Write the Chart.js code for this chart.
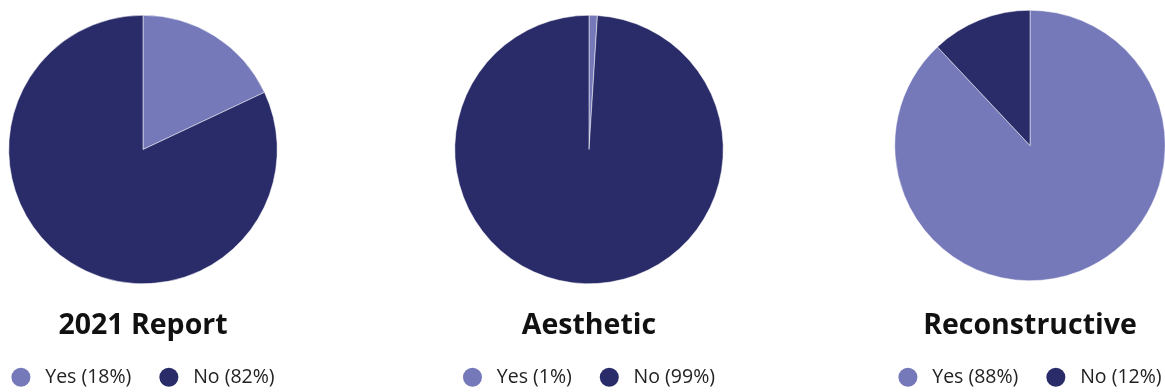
<!DOCTYPE html>
<html>
<head>
<meta charset="utf-8">
<title>Pie charts</title>
<script src="https://cdn.jsdelivr.net/npm/chart.js@4.4.1/dist/chart.umd.min.js"></script>
<style>
  html, body { margin: 0; padding: 0; background: #fff; overflow: hidden; }
  #wrap { position: relative; width: 1165px; height: 392px; overflow: hidden; }
  canvas { position: absolute; top: 0; }
</style>
</head>
<body>
<div id="wrap">
  <canvas id="chartReport" width="388" height="397" style="left:-51px"></canvas>
  <canvas id="chartAesthetic" width="388" height="397" style="left:395px"></canvas>
  <canvas id="chartRecon" width="388" height="397" style="left:836px"></canvas>
</div>
<script>
// Data
const categories = ['Yes', 'No'];
const reportValues = [18, 82];
const aestheticValues = [1, 99];
const reconValues = [88, 12];
const chartTitles = ['2021 Report', 'Aesthetic', 'Reconstructive'];

const sliceColors = ['#7579b9', '#2a2c6a'];
const fontFamily = '"Open Sans", Lato, sans-serif';

Chart.defaults.font.family = fontFamily;

// Build one pie chart
function makePie(canvasId, values, title, topPad, titlePad) {
  const ctx = document.getElementById(canvasId).getContext('2d');
  return new Chart(ctx, {
    type: 'pie',
    data: {
      labels: categories.map((c, i) => `${c} (${values[i]}%)`),
      datasets: [{
        data: values,
        backgroundColor: sliceColors,
        borderColor: '#ffffff',
        borderWidth: 0.5
      }]
    },
    options: {
      responsive: false,
      animation: false,
      layout: { padding: { top: topPad, bottom: 0 } },
      plugins: {
        tooltip: { enabled: false },
        title: {
          display: true,
          text: title,
          position: 'bottom',
          weight: 100,
          color: '#111',
          font: { size: 28.5, weight: 'bold', family: fontFamily },
          padding: { top: titlePad, bottom: -3.5 }
        },
        legend: {
          position: 'bottom',
          weight: 500,
          labels: {
            usePointStyle: true,
            pointStyle: 'circle',
            pointStyleWidth: 19,
            boxHeight: 13.4,
            padding: 28,
            color: '#222',
            font: { size: 19.5, family: fontFamily },
            generateLabels(chart) {
              const base = Chart.overrides.pie.plugins.legend.labels.generateLabels(chart);
              return base.map(item => Object.assign(item, { text: ' ' + item.text, strokeStyle: item.fillStyle, lineWidth: 0 }));
            }
          }
        }
      }
    }
  });
}

makePie('chartReport', reportValues, chartTitles[0], 15, 24.8);
makePie('chartAesthetic', aestheticValues, chartTitles[1], 15, 24.8);
makePie('chartRecon', reconValues, chartTitles[2], 10, 27.8);
</script>
</body>
</html>
